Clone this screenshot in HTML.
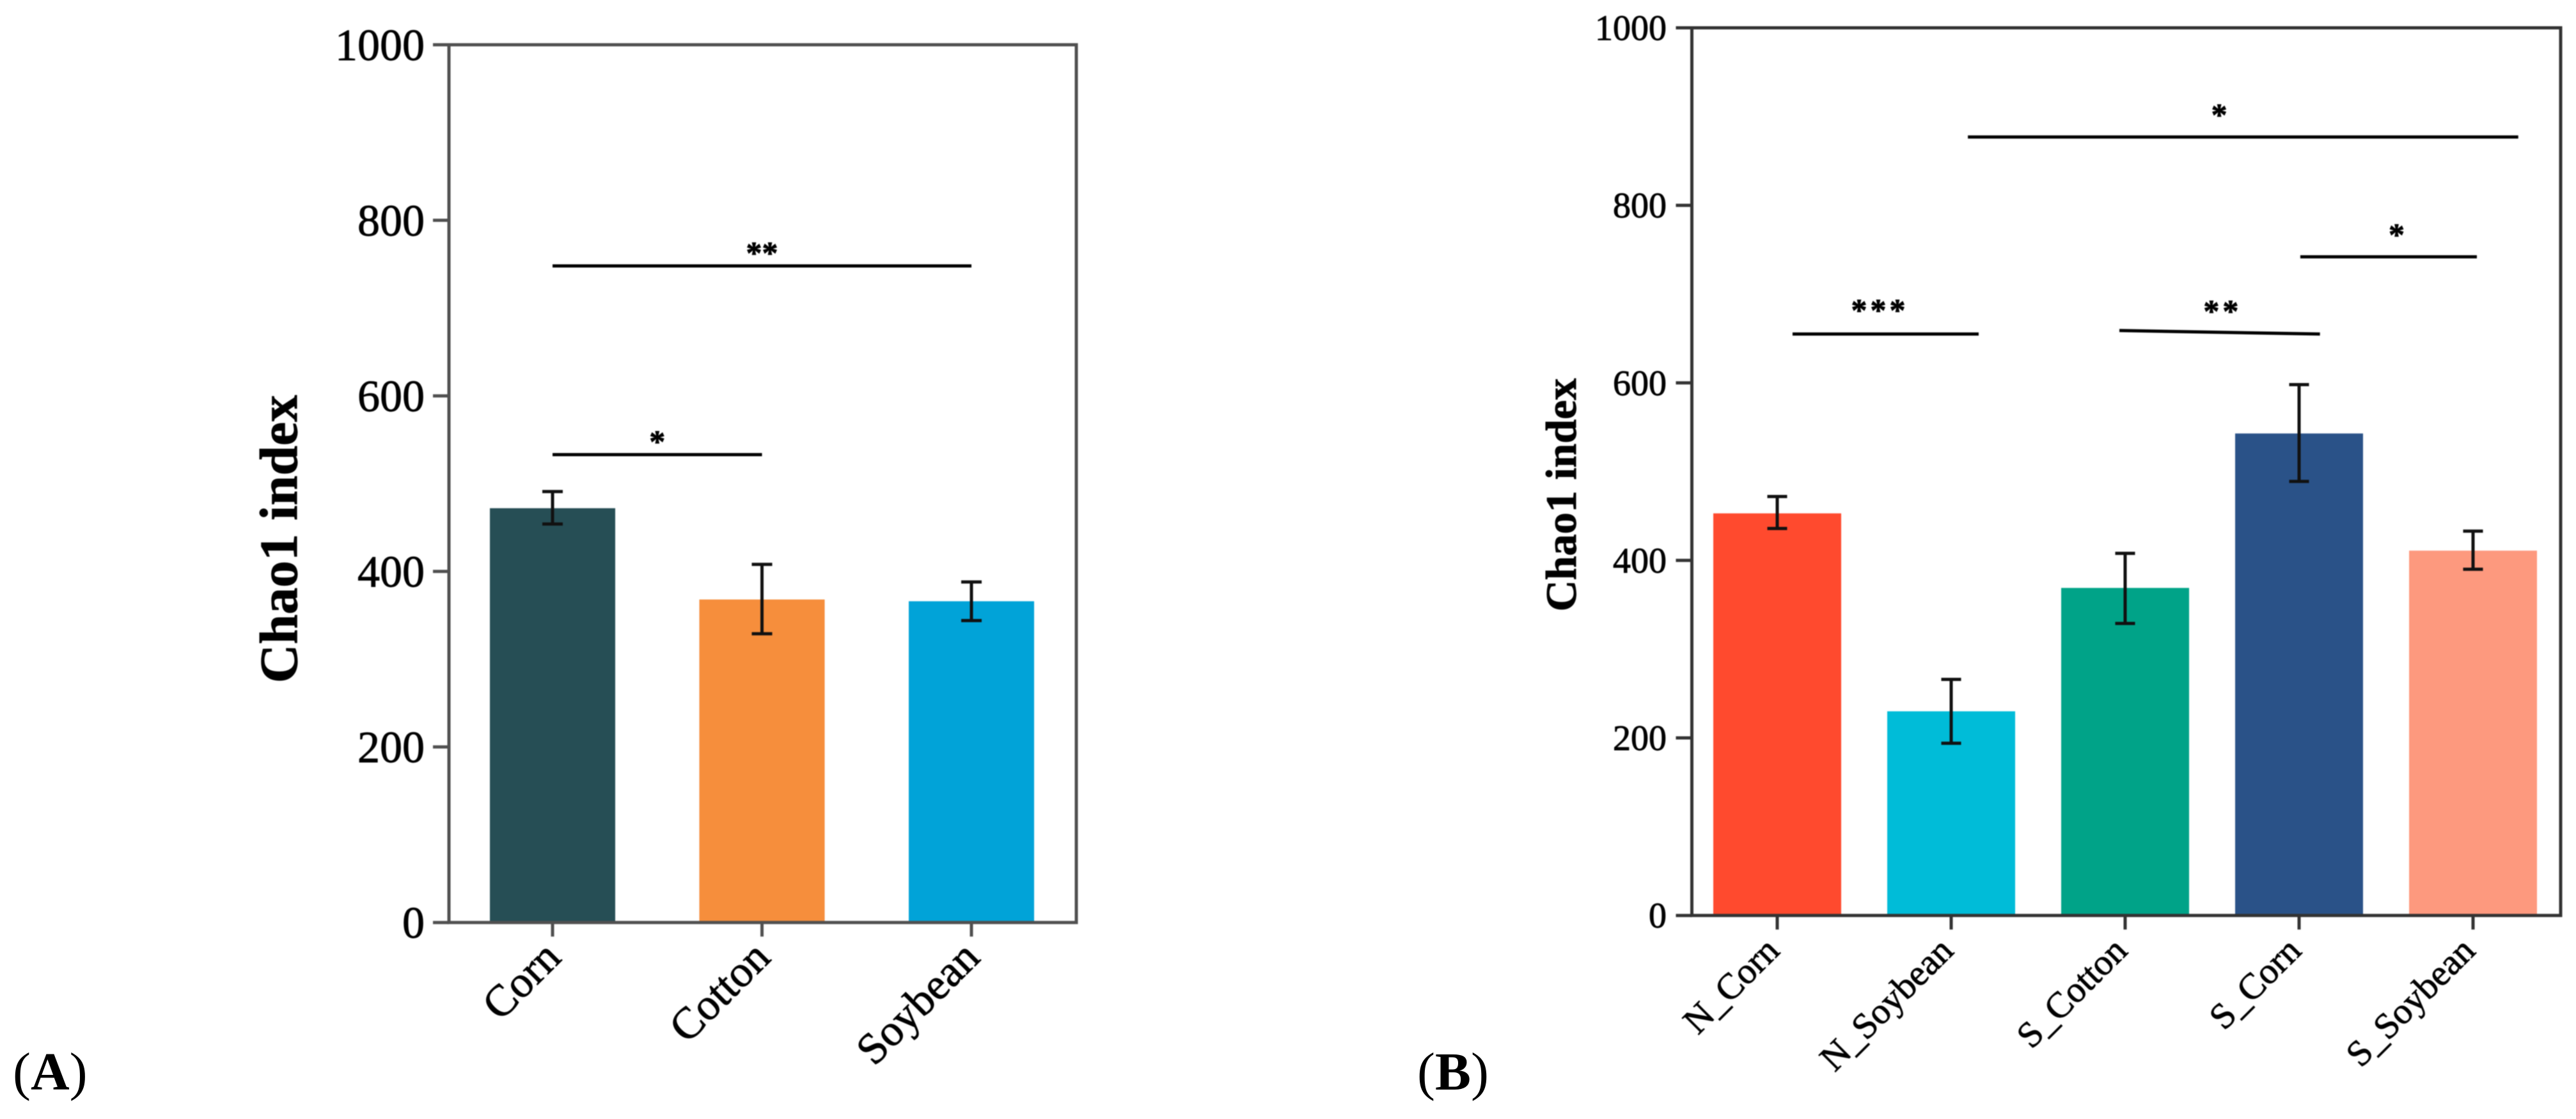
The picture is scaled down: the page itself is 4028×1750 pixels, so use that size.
<!DOCTYPE html>
<html lang="en">
<head>
<meta charset="utf-8">
<title>Chao1 index bar charts</title>
<style>
html,body{margin:0;padding:0;background:#fff;}
body{width:4028px;height:1750px;overflow:hidden;}
svg{display:block;}
text{font-family:"Liberation Serif",serif;fill:#000;}
.soft{filter:blur(0.9px);}
.soft text{stroke:#000;stroke-width:0.9px;}
</style>
</head>
<body>
<svg id="figure" xmlns="http://www.w3.org/2000/svg" width="4028" height="1750" viewBox="0 0 4028 1750">
  <rect x="0" y="0" width="4028" height="1750" fill="#fff"/>
  <g id="panelA" class="soft"></g>
  <g id="panelB" class="soft"></g>
  <text x="20" y="1704" font-size="84">(<tspan font-weight="700">A</tspan>)</text>
  <text x="2216" y="1704" font-size="84">(<tspan font-weight="700">B</tspan>)</text>
</svg>
<script>
// Shared y axis
const yTicks = [0, 200, 400, 600, 800, 1000];
const yMax = 1000;

// Panel A data
const categoriesA = ["Corn", "Cotton", "Soybean"];
const valuesA = [472, 368, 366];
const errHighA = [491, 408, 388];
const errLowA = [454, 329, 344];
const colorsA = ["#264e55", "#f68e3c", "#01a3d8"];
const sigStartA = [0, 0];
const sigEndA = [2, 1];
const sigStartValueA = [748, 533];
const sigEndValueA = [748, 533];
const sigTextA = ["**", "*"];
const sigTextPosA = [1, 0.5];
const sigTextValueA = [764, 549];

// Panel B data
const categoriesB = ["N_Corn", "N_Soybean", "S_Cotton", "S_Corn", "S_Soybean"];
const valuesB = [453, 230, 369, 543, 411];
const errHighB = [472, 266, 408, 598, 433];
const errLowB = [436, 194, 329, 489, 390];
const colorsB = ["#ff4a2e", "#00bcd8", "#00a388", "#2a5288", "#fd997e"];
const sigStartB = [1.096, 0.088, 1.967, 3.007];
const sigEndB = [4.26, 1.158, 3.12, 4.022];
const sigStartValueB = [877, 655, 659, 742];
const sigEndValueB = [877, 655, 655, 742];
const sigTextB = ["*", "***", "**", "*"];
const sigTextPosB = [2.55, 0.59, 2.56, 3.57];
const sigTextValueB = [903, 683, 682, 768];

const NS = "http://www.w3.org/2000/svg";

function drawPanel(root, cfg) {
  const xPos = function (i) { return cfg.firstX + cfg.step * i; };
  const yPos = function (v) { return cfg.bottom - (cfg.bottom - cfg.top) * v / yMax; };

  function line(x1, y1, x2, y2, color, width) {
    const l = document.createElementNS(NS, "line");
    l.setAttribute("x1", x1);
    l.setAttribute("y1", y1);
    l.setAttribute("x2", x2);
    l.setAttribute("y2", y2);
    l.setAttribute("stroke", color);
    l.setAttribute("stroke-width", width);
    root.appendChild(l);
    return l;
  }

  function label(content, x, y, size, anchor) {
    const t = document.createElementNS(NS, "text");
    t.setAttribute("x", x);
    t.setAttribute("y", y);
    t.setAttribute("font-size", size);
    t.setAttribute("text-anchor", anchor);
    t.textContent = content;
    root.appendChild(t);
    return t;
  }

  // Bars
  cfg.categories.forEach(function (cat, i) {
    const r = document.createElementNS(NS, "rect");
    r.setAttribute("x", xPos(i) - cfg.barWidth / 2);
    r.setAttribute("y", yPos(cfg.values[i]));
    r.setAttribute("width", cfg.barWidth);
    r.setAttribute("height", yPos(0) - yPos(cfg.values[i]));
    r.setAttribute("fill", cfg.colors[i]);
    
    
    root.appendChild(r);
  });

  // Error bars
  cfg.categories.forEach(function (cat, i) {
    const x = xPos(i);
    const stem = line(x, yPos(cfg.errHigh[i]), x, yPos(cfg.errLow[i]), "#111", 5);
    
    
    const capHigh = line(x - cfg.cap / 2, yPos(cfg.errHigh[i]), x + cfg.cap / 2, yPos(cfg.errHigh[i]), "#111", 5);
    
    
    const capLow = line(x - cfg.cap / 2, yPos(cfg.errLow[i]), x + cfg.cap / 2, yPos(cfg.errLow[i]), "#111", 5);
    
    
  });

  // Plot frame
  const frame = document.createElementNS(NS, "rect");
  frame.setAttribute("x", cfg.left);
  frame.setAttribute("y", cfg.top);
  frame.setAttribute("width", cfg.right - cfg.left);
  frame.setAttribute("height", cfg.bottom - cfg.top);
  frame.setAttribute("fill", "none");
  frame.setAttribute("stroke", cfg.axisColor);
  frame.setAttribute("stroke-width", cfg.axisWidth);
  
  
  root.appendChild(frame);

  // Y ticks and labels
  yTicks.forEach(function (v) {
    const y = yPos(v);
    const tick = line(cfg.left - cfg.tickLen, y, cfg.left, y, cfg.axisColor, cfg.axisWidth);
    
    
    const tl = label(String(v), cfg.yLabelRight, y + cfg.yLabelDy, cfg.yFont, "end");
    
    
  });

  // X ticks and rotated labels
  cfg.categories.forEach(function (cat, i) {
    const x = xPos(i);
    const tick = line(x, cfg.bottom, x, cfg.bottom + cfg.tickLen - 3, cfg.axisColor, cfg.axisWidth);
    
    
    const ax = x + cfg.xLabelDx;
    const ay = cfg.bottom + cfg.xLabelDy;
    const tl = label(cat, ax, ay, cfg.xFont, "end");
    tl.setAttribute("transform", "rotate(-45 " + ax + " " + ay + ")");
    
    
  });

  // Y axis title
  const title = label("Chao1 index", 0, 0, cfg.titleFont, "middle");
  title.setAttribute("font-weight", "700");
  title.setAttribute("transform", "translate(" + cfg.titleX + " " + cfg.titleY + ") rotate(-90)");
  
  

  // Significance lines and stars
  cfg.sigStart.forEach(function (s, i) {
    const sl = line(xPos(s), yPos(cfg.sigStartValue[i]), xPos(cfg.sigEnd[i]), yPos(cfg.sigEndValue[i]), "#000", 5);
    
    
    const st = label(cfg.sigText[i], xPos(cfg.sigTextPos[i]), yPos(cfg.sigTextValue[i]) + cfg.starDy, cfg.starFont, "middle");
    st.setAttribute("font-weight", "700");
    st.setAttribute("letter-spacing", cfg.starSpacing);
    
    
  });
}

drawPanel(document.getElementById("panelA"), {
  categories: categoriesA, values: valuesA, errHigh: errHighA, errLow: errLowA, colors: colorsA,
  sigStart: sigStartA, sigEnd: sigEndA, sigStartValue: sigStartValueA, sigEndValue: sigEndValueA,
  sigText: sigTextA, sigTextPos: sigTextPosA, sigTextValue: sigTextValueA,
  left: 702, right: 1683, top: 70, bottom: 1442.7,
  firstX: 864, step: 327.5, barWidth: 196, cap: 32,
  axisColor: "#505050", axisWidth: 5, tickLen: 25,
  yLabelRight: 664, yLabelDy: 24, yFont: 70,
  xLabelDx: 16, xLabelDy: 58, xFont: 69,
  titleX: 464, titleY: 843, titleFont: 84,
  starFont: 50, starDy: 18, starSpacing: 0
});

drawPanel(document.getElementById("panelB"), {
  categories: categoriesB, values: valuesB, errHigh: errHighB, errLow: errLowB, colors: colorsB,
  sigStart: sigStartB, sigEnd: sigEndB, sigStartValue: sigStartValueB, sigEndValue: sigEndValueB,
  sigText: sigTextB, sigTextPos: sigTextPosB, sigTextValue: sigTextValueB,
  left: 2645.5, right: 4004, top: 43.5, bottom: 1431.7,
  firstX: 2779, step: 272, barWidth: 200, cap: 31,
  axisColor: "#333333", axisWidth: 5, tickLen: 25,
  yLabelRight: 2606, yLabelDy: 19, yFont: 56,
  xLabelDx: 6, xLabelDy: 58, xFont: 57,
  titleX: 2464, titleY: 774, titleFont: 68,
  starFont: 50, starDy: 18, starSpacing: 5
});
</script>
</body>
</html>
